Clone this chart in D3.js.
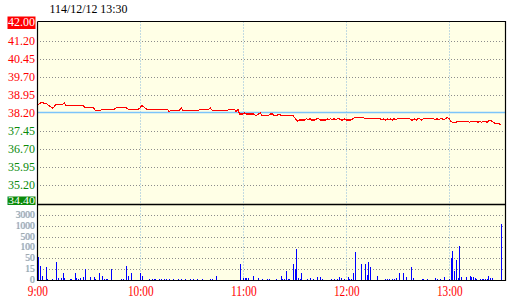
<!DOCTYPE html>
<html>
<head>
<meta charset="utf-8">
<script src="https://cdn.jsdelivr.net/npm/d3@7"></script>
<style>
body { margin: 0; background: #fff; }
svg { display: block; }
</style>
</head>
<body>
<div id="vis"></div>
<script>
//title: ROC date and last update time
const title = "114/12/12 13:30"

//price axis, limit up on top, limit down at the bottom, previous close in the middle
const priceTicks = [42.00, 41.20, 40.45, 39.70, 38.95, 38.20, 37.45, 36.70, 35.95, 35.20, 34.40]
const refPrice = 38.20

//volume axis, every step gets the same height
const volTicks = [0, 15, 50, 100, 500, 1000, 3000]

//time axis, minutes after 9:00
const timeLabels = ["9:00", "10:00", "11:00", "12:00", "13:00"]
const timeMinutes = [0, 60, 120, 180, 240]

//one price per minute, 9:00 .. 13:30
const prices = [
    38.55, 38.55, 38.60, 38.65, 38.60, 38.60, 38.55, 38.50, 38.45, 38.40,
    38.45, 38.55, 38.55, 38.55, 38.55, 38.55, 38.60, 38.50, 38.50, 38.50,
    38.50, 38.50, 38.50, 38.50, 38.50, 38.50, 38.50, 38.50, 38.40, 38.40,
    38.40, 38.40, 38.40, 38.40, 38.30, 38.30, 38.30, 38.30, 38.35, 38.35,
    38.35, 38.35, 38.35, 38.35, 38.35, 38.35, 38.40, 38.40, 38.40, 38.40,
    38.40, 38.40, 38.40, 38.35, 38.35, 38.35, 38.35, 38.35, 38.35, 38.35,
    38.40, 38.50, 38.45, 38.40, 38.35, 38.35, 38.35, 38.35, 38.35, 38.35,
    38.35, 38.35, 38.35, 38.35, 38.35, 38.35, 38.35, 38.25, 38.30, 38.30,
    38.30, 38.30, 38.30, 38.30, 38.40, 38.30, 38.30, 38.30, 38.30, 38.30,
    38.30, 38.30, 38.30, 38.30, 38.30, 38.35, 38.35, 38.35, 38.35, 38.35,
    38.35, 38.40, 38.30, 38.30, 38.30, 38.30, 38.30, 38.30, 38.30, 38.30,
    38.30, 38.30, 38.35, 38.35, 38.35, 38.35, 38.25, 38.35, 38.15, 38.15,
    38.15, 38.20, 38.15, 38.15, 38.15, 38.15, 38.15, 38.10, 38.10, 38.15,
    38.20, 38.10, 38.10, 38.10, 38.10, 38.10, 38.15, 38.15, 38.10, 38.10,
    38.10, 38.15, 38.10, 38.10, 38.10, 38.10, 38.10, 38.10, 38.10, 38.10,
    38.00, 37.90, 37.85, 37.90, 37.90, 37.90, 37.90, 37.95, 37.90, 37.95,
    37.90, 37.90, 37.90, 37.95, 37.95, 37.90, 37.90, 37.90, 37.90, 37.95,
    37.90, 37.95, 37.90, 37.95, 37.90, 37.95, 37.95, 37.90, 37.90, 37.95,
    37.90, 37.90, 37.90, 37.90, 37.95, 38.00, 38.00, 38.00, 38.00, 38.00,
    38.00, 37.95, 37.95, 37.95, 37.95, 37.95, 37.95, 37.95, 37.95, 37.95,
    37.95, 37.90, 37.95, 37.90, 37.95, 37.90, 37.95, 37.90, 37.95, 37.90,
    37.95, 37.95, 37.95, 37.95, 37.95, 37.95, 37.95, 37.95, 37.90, 37.90,
    37.95, 37.90, 37.95, 37.95, 37.90, 37.95, 37.95, 37.95, 37.95, 37.95,
    37.95, 37.95, 37.90, 37.95, 37.90, 37.95, 37.95, 37.90, 37.95, 38.00,
    37.95, 37.85, 37.80, 37.80, 37.80, 37.85, 37.85, 37.85, 37.85, 37.85,
    37.85, 37.85, 37.80, 37.85, 37.85, 37.85, 37.85, 37.80, 37.85, 37.80,
    37.85, 37.85, 37.80, 37.85, 37.90, 37.85, 37.80, 37.75, 37.75, 37.75,
    37.70
]

//[minute, lots]
const volumes = [
    [0, 57], [2, 26], [3, 5], [5, 21], [6, 2], [9, 2], [11, 37], [12, 3],
    [14, 3], [15, 10], [16, 3], [19, 2], [20, 1], [22, 10], [23, 3], [24, 2],
    [25, 3], [27, 4], [28, 17], [31, 4], [33, 4], [34, 1], [36, 9], [38, 6],
    [39, 2], [40, 1], [41, 2], [43, 17], [49, 1], [50, 1], [52, 25], [53, 6],
    [55, 10], [60, 9], [61, 6], [65, 2], [67, 2], [68, 2], [69, 2], [71, 2],
    [72, 2], [74, 2], [75, 2], [77, 2], [79, 2], [82, 2], [84, 2], [86, 2],
    [89, 2], [91, 2], [93, 2], [96, 2], [101, 2], [102, 2], [104, 6],
    [118, 32], [120, 3], [121, 3], [122, 3], [123, 3], [126, 6], [129, 3],
    [131, 1], [134, 2], [135, 2], [139, 2], [142, 6], [143, 1], [144, 2],
    [145, 12], [146, 2], [147, 2], [149, 32], [150, 17], [151, 94], [152, 3],
    [153, 2], [154, 10], [157, 1], [159, 3], [161, 1], [163, 4], [165, 4],
    [166, 1], [171, 1], [173, 1], [175, 1], [176, 4], [177, 3], [179, 1],
    [181, 4], [182, 1], [183, 1], [184, 10], [185, 80], [189, 32], [191, 32],
    [192, 7], [193, 37], [194, 21], [198, 6], [203, 1], [204, 1], [205, 1],
    [207, 1], [208, 2], [209, 3], [211, 10], [213, 9], [215, 4], [218, 21],
    [219, 3], [224, 1], [225, 1], [227, 1], [232, 3], [233, 2], [235, 1],
    [237, 4], [240, 1], [241, 50], [242, 85], [243, 13], [244, 45], [245, 3],
    [246, 160], [247, 4], [250, 4], [252, 6], [253, 4], [254, 4], [255, 3],
    [256, 1], [258, 1], [259, 1], [260, 1], [261, 1], [262, 1], [263, 6],
    [264, 3], [265, 3], [270, 1300]
]

const width = 520
const height = 300

//plot box
const plotLeft = 37
const plotRight = 505
const plotTop = 21.5
const plotMid = 204
const plotBottom = 280

const font = "'Liberation Serif', 'Times New Roman', serif"

const svg = d3.select("#vis")
    .append("svg")
    .attr("width", width)
    .attr("height", height)

//time scale, 103px per hour
const x = d3.scaleLinear()
    .domain([0, 270])
    .range([plotLeft, plotLeft + 270 * 103 / 60])

const y = d3.scaleLinear()
    .domain([34.40, 42.00])
    .range([plotMid, plotTop])

//piecewise scale for the volume panel
const volStep = (plotBottom - plotMid) / 7
const yVol = d3.scaleLinear()
    .domain(volTicks)
    .range(volTicks.map((d, i) => plotBottom - i * volStep))

//background of the plot
svg.append("rect")
    .attr("x", plotLeft)
    .attr("y", plotTop)
    .attr("width", plotRight - plotLeft)
    .attr("height", plotBottom - plotTop)
    .attr("fill", "#ffffe6")

//horizontal grid in the price panel
svg.append("g")
    .selectAll("line")
    .data(priceTicks.filter(d => d != refPrice && d != 42.00 && d != 34.40))
    .enter()
    .append("line")
    .attr("x1", plotLeft)
    .attr("x2", plotRight)
    .attr("y1", d => Math.round(y(d)) + 0.5)
    .attr("y2", d => Math.round(y(d)) + 0.5)
    .attr("stroke", "#8c8c8c")
    .attr("stroke-dasharray", "1,2")

//horizontal grid in the volume panel
svg.append("g")
    .selectAll("line")
    .data(volTicks.slice(1))
    .enter()
    .append("line")
    .attr("x1", plotLeft)
    .attr("x2", plotRight)
    .attr("y1", d => Math.round(yVol(d)) + 0.5)
    .attr("y2", d => Math.round(yVol(d)) + 0.5)
    .attr("stroke", "#8c8c8c")
    .attr("stroke-dasharray", "1,2")

//vertical grid, one per hour
svg.append("g")
    .selectAll("line")
    .data(timeMinutes.slice(1))
    .enter()
    .append("line")
    .attr("x1", d => Math.round(x(d)) + 0.5)
    .attr("x2", d => Math.round(x(d)) + 0.5)
    .attr("y1", plotTop)
    .attr("y2", plotBottom)
    .attr("stroke", "#86b6dc")
    .attr("stroke-dasharray", "1,2")

//previous close
svg.append("line")
    .attr("x1", plotLeft)
    .attr("x2", plotRight)
    .attr("y1", Math.round(y(refPrice)) - 0.5)
    .attr("y2", Math.round(y(refPrice)) - 0.5)
    .attr("stroke", "#7cc4fa")
    .attr("stroke-width", 1.4)

//price line
const line = d3.line()
    .x((d, i) => x(i))
    .y(d => y(d))

svg.append("path")
    .datum(prices)
    .attr("d", line)
    .attr("fill", "none")
    .attr("stroke", "#ff0000")
    .attr("stroke-width", 1.1)
    .attr("shape-rendering", "crispEdges")

//volume bars
svg.append("g")
    .selectAll("rect")
    .data(volumes)
    .enter()
    .append("rect")
    .attr("x", d => Math.round(x(d[0])))
    .attr("width", d => d[0] == 0 ? 2 : 1)
    .attr("y", d => Math.round(yVol(d[1])))
    .attr("height", d => plotBottom - Math.round(yVol(d[1])))
    .attr("fill", "#0000ff")
    .attr("shape-rendering", "crispEdges")

//frame
const frame = svg.append("g")
    .attr("stroke", "#000")
    .attr("fill", "none")
frame.append("path")
    .attr("d", `M${plotLeft + 0.5},${plotTop} V${plotBottom + 0.5} H${plotRight + 0.5} V${plotTop} H${plotLeft + 0.5}`)
    .attr("stroke-width", 1.2)
frame.append("line")
    .attr("x1", plotLeft)
    .attr("x2", plotRight)
    .attr("y1", plotMid + 0.5)
    .attr("y2", plotMid + 0.5)
    .attr("stroke-width", 1.6)

//title
svg.append("text")
    .attr("x", 49.5)
    .attr("y", 12.5)
    .attr("font-family", font)
    .attr("font-size", 13.5)
    .attr("textLength", 78)
    .attr("lengthAdjust", "spacingAndGlyphs")
    .text(title)

//price labels, red above the close, green below, boxed at the limits
const last = priceTicks.length - 1
const priceLabels = svg.append("g")
    .selectAll("g")
    .data(priceTicks)
    .enter()
    .append("g")

const baseline = d => d == 34.40 ? 204 : y(d) + 4.5

priceLabels.filter(d => d == 42.00 || d == 34.40)
    .append("rect")
    .attr("x", 7.5)
    .attr("width", 28)
    .attr("y", d => d == 42.00 ? baseline(d) - 9.5 : 196.5)
    .attr("height", d => d == 42.00 ? 12.5 : 8.5)
    .attr("fill", d => d >= refPrice ? "#ff0000" : "#0a8a0a")

priceLabels.append("text")
    .attr("x", 8)
    .attr("y", baseline)
    .attr("font-family", font)
    .attr("font-size", d => d == 34.40 ? 11 : 13)
    .attr("textLength", 27)
    .attr("lengthAdjust", "spacingAndGlyphs")
    .attr("fill", d => (d == 42.00 || d == 34.40) ? "#fff" : (d >= refPrice ? "#ff0000" : "#0a8a0a"))
    .text(d => d.toFixed(2))

//volume labels, grey with a light blue edge
const volLabels = svg.append("g")
    .selectAll("g")
    .data(volTicks)
    .enter()
    .append("g")

volLabels.append("text")
    .attr("x", d => 34.3 - String(d).length * 4.75)
    .attr("y", d => yVol(d) + 3)
    .attr("font-family", font)
    .attr("font-size", 9.5)
    .attr("textLength", d => String(d).length * 4.75)
    .attr("lengthAdjust", "spacingAndGlyphs")
    .attr("fill", "#9cc8ec")
    .text(d => d)

volLabels.append("text")
    .attr("x", d => 35 - String(d).length * 4.75)
    .attr("y", d => yVol(d) + 3)
    .attr("font-family", font)
    .attr("font-size", 9.5)
    .attr("textLength", d => String(d).length * 4.75)
    .attr("lengthAdjust", "spacingAndGlyphs")
    .attr("fill", "#a0a0a0")
    .text(d => d)

//time labels
const labelWidth = s => (s.length - 1) * 5.55 + 3.5

svg.append("g")
    .selectAll("text")
    .data(timeLabels)
    .enter()
    .append("text")
    .attr("x", (d, i) => x(timeMinutes[i]) + 0.8 - labelWidth(d) / 2)
    .attr("y", 295.5)
    .attr("font-family", font)
    .attr("font-size", 14)
    .attr("textLength", labelWidth)
    .attr("lengthAdjust", "spacingAndGlyphs")
    .attr("fill", "#ff0000")
    .text(d => d)
</script>
</body>
</html>
